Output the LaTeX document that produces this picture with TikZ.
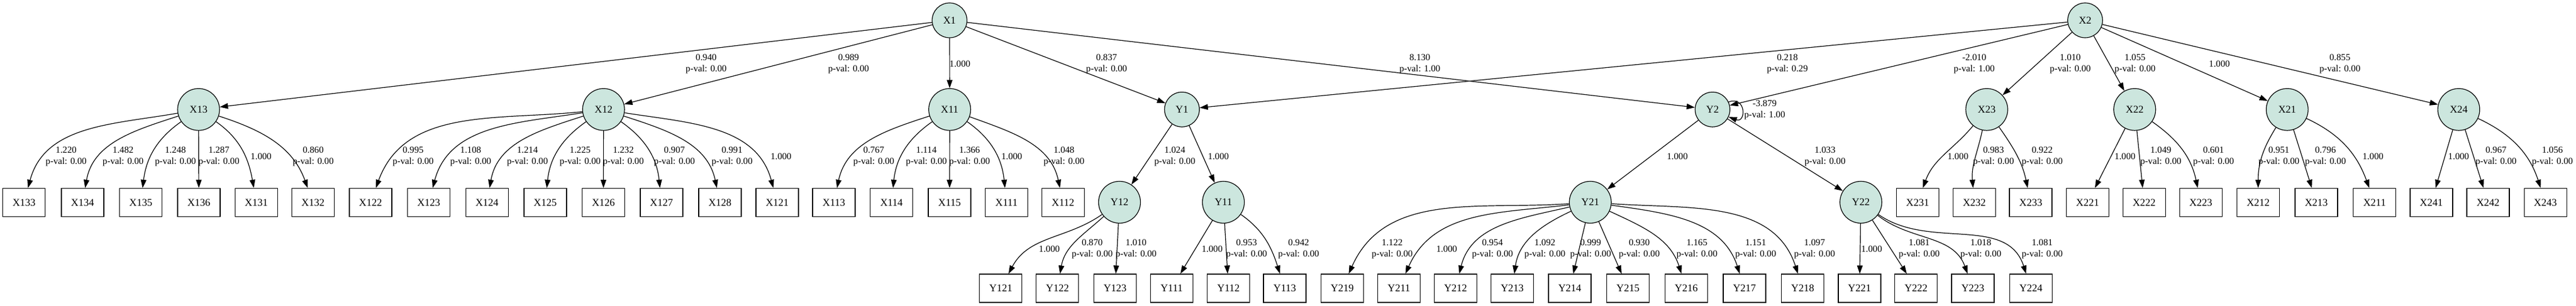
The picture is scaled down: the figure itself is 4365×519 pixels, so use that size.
\documentclass[tikz,border=0pt]{standalone}
\usepackage{fontspec}
\setmainfont{Liberation Serif}
\usetikzlibrary{arrows.meta}
\definecolor{latentfill}{RGB}{204,230,222}

\begin{document}
\begin{tikzpicture}[x=1pt,y=1pt,
  latent/.style={circle,draw,line width=1.2pt,fill=latentfill,minimum size=71pt,inner sep=0pt,font=\fontsize{17.5}{20}\selectfont},
  latent top/.style={latent,minimum size=59pt},
  obs/.style={rectangle,draw,line width=1.3pt,minimum width=72pt,minimum height=48pt,inner sep=0pt,font=\fontsize{17.5}{20}\selectfont},
  lbl/.style={align=center,inner sep=0pt,font=\fontsize{15.7}{19}\selectfont},
  arr/.style={line width=1.2pt,-{Triangle[length=14pt,width=9.5pt]}}]
  \useasboundingbox (0,0) rectangle (4365,519);

  \node[latent top] (X1) at (1609,484.5) {X1};
  \node[latent top] (X2) at (3533.2,484.5) {X2};

  \node[latent] (X13) at (336.5,333.3) {X13};
  \node[latent] (X12) at (1022.7,333.3) {X12};
  \node[latent] (X11) at (1609.2,333.3) {X11};
  \node[latent top] (Y1) at (2002.8,333.3) {Y1};
  \node[latent top] (Y2) at (2901.8,333.3) {Y2};
  \node[latent] (X23) at (3366.5,333.3) {X23};
  \node[latent] (X22) at (3617.2,333.3) {X22};
  \node[latent] (X21) at (3875.6,333.3) {X21};
  \node[latent] (X24) at (4166.3,333.3) {X24};

  \node[latent] (Y12) at (1897,176) {Y12};
  \node[latent] (Y11) at (2073,176) {Y11};
  \node[latent] (Y21) at (2694.7,176) {Y21};
  \node[latent] (Y22) at (3153.2,176) {Y22};

  \node[obs] (X133) at (40.8,175.5) {X133};
  \node[obs] (X134) at (139.9,175.5) {X134};
  \node[obs] (X135) at (238.6,175.5) {X135};
  \node[obs] (X136) at (337,175.5) {X136};
  \node[obs] (X131) at (434.4,175.5) {X131};
  \node[obs] (X132) at (530.4,175.5) {X132};
  \node[obs] (X122) at (627.9,175.5) {X122};
  \node[obs] (X123) at (726.5,175.5) {X123};
  \node[obs] (X124) at (825.2,175.5) {X124};
  \node[obs] (X125) at (923.9,175.5) {X125};
  \node[obs] (X126) at (1022.5,175.5) {X126};
  \node[obs] (X127) at (1120.9,175.5) {X127};
  \node[obs] (X128) at (1220,175.5) {X128};
  \node[obs] (X121) at (1317,175.5) {X121};
  \node[obs] (X113) at (1413,175.5) {X113};
  \node[obs] (X114) at (1510.6,175.5) {X114};
  \node[obs] (X115) at (1609,175.5) {X115};
  \node[obs] (X111) at (1705.5,175.5) {X111};
  \node[obs] (X112) at (1801.3,175.5) {X112};
  \node[obs] (X231) at (3249.3,175.5) {X231};
  \node[obs] (X232) at (3345.5,175.5) {X232};
  \node[obs] (X233) at (3441.1,175.5) {X233};
  \node[obs] (X221) at (3537.3,175.5) {X221};
  \node[obs] (X222) at (3633.2,175.5) {X222};
  \node[obs] (X223) at (3729.2,175.5) {X223};
  \node[obs] (X212) at (3826.4,175.5) {X212};
  \node[obs] (X213) at (3925,175.5) {X213};
  \node[obs] (X211) at (4023.6,175.5) {X211};
  \node[obs] (X241) at (4119.8,175.5) {X241};
  \node[obs] (X242) at (4216,175.5) {X242};
  \node[obs] (X243) at (4313.1,175.5) {X243};

  \node[obs] (Y121) at (1695.8,30) {Y121};
  \node[obs] (Y122) at (1791.8,30) {Y122};
  \node[obs] (Y123) at (1889.5,30) {Y123};
  \node[obs] (Y111) at (1985.3,30) {Y111};
  \node[obs] (Y112) at (2081.6,30) {Y112};
  \node[obs] (Y113) at (2177,30) {Y113};
  \node[obs] (Y219) at (2274.4,30) {Y219};
  \node[obs] (Y211) at (2370.5,30) {Y211};
  \node[obs] (Y212) at (2466.5,30) {Y212};
  \node[obs] (Y213) at (2562.5,30) {Y213};
  \node[obs] (Y214) at (2660,30) {Y214};
  \node[obs] (Y215) at (2758.6,30) {Y215};
  \node[obs] (Y216) at (2857.3,30) {Y216};
  \node[obs] (Y217) at (2956,30) {Y217};
  \node[obs] (Y218) at (3054.6,30) {Y218};
  \node[obs] (Y221) at (3150.9,30) {Y221};
  \node[obs] (Y222) at (3246.7,30) {Y222};
  \node[obs] (Y223) at (3343,30) {Y223};
  \node[obs] (Y224) at (3441.3,30) {Y224};

  \draw[arr] (X1) -- (X13);
  \draw[arr] (X1) -- (X12);
  \draw[arr] (X1) -- (X11);
  \draw[arr] (X1) -- (Y1);
  \draw[arr] (X1) -- (Y2);
  \draw[arr] (X2) -- (Y1);
  \draw[arr] (X2) -- (Y2);
  \draw[arr] (X2) -- (X23);
  \draw[arr] (X2) -- (X22);
  \draw[arr] (X2) -- (X21);
  \draw[arr] (X2) -- (X24);
  \draw[arr] (Y1) -- (Y12);
  \draw[arr] (Y1) -- (Y11);
  \draw[arr] (Y2) -- (Y21);
  \draw[arr] (Y2) -- (Y22);
  \draw[arr] (Y2.25) .. controls +(20:32) and +(-20:32) .. (Y2.-25);

  \draw[arr] (X13) to[out=190,in=75] (X133);
  \draw[arr] (X13) to[out=198,in=80] (X134);
  \draw[arr] (X13) to[out=215,in=83] (X135);
  \draw[arr] (X13) -- (X136);
  \draw[arr] (X13) to[out=-35,in=100] (X131);
  \draw[arr] (X13) to[out=-18,in=110] (X132);

  \draw[arr] (X12) to[out=186,in=70] (X122);
  \draw[arr] (X12) to[out=189,in=75] (X123);
  \draw[arr] (X12) to[out=198,in=80] (X124);
  \draw[arr] (X12) to[out=215,in=84] (X125);
  \draw[arr] (X12) -- (X126);
  \draw[arr] (X12) to[out=-35,in=96] (X127);
  \draw[arr] (X12) to[out=-18,in=102] (X128);
  \draw[arr] (X12) to[out=-9,in=105] (X121);

  \draw[arr] (X11) to[out=198,in=78] (X113);
  \draw[arr] (X11) to[out=215,in=84] (X114);
  \draw[arr] (X11) -- (X115);
  \draw[arr] (X11) to[out=-35,in=96] (X111);
  \draw[arr] (X11) to[out=-20,in=102] (X112);

  \draw[arr] (Y12) to[out=215,in=62] (Y121);
  \draw[arr] (Y12) to[out=222,in=80] (Y122);
  \draw[arr] (Y12) -- (Y123);

  \draw[arr] (Y11) -- (Y111);
  \draw[arr] (Y11) -- (Y112);
  \draw[arr] (Y11) to[out=-35,in=108] (Y113);

  \draw[arr] (Y21) to[out=184,in=66] (Y219);
  \draw[arr] (Y21) to[out=187,in=66] (Y211);
  \draw[arr] (Y21) to[out=193,in=76] (Y212);
  \draw[arr] (Y21) to[out=205,in=82] (Y213);
  \draw[arr] (Y21) -- (Y214);
  \draw[arr] (Y21) -- (Y215);
  \draw[arr] (Y21) to[out=-25,in=108] (Y216);
  \draw[arr] (Y21) to[out=-8,in=108] (Y217);
  \draw[arr] (Y21) to[out=-4,in=108] (Y218);

  \draw[arr] (Y22) -- (Y221);
  \draw[arr] (Y22) -- (Y222);
  \draw[arr] (Y22) to[out=-38,in=110] (Y223);
  \draw[arr] (Y22) to[out=-35,in=108] (Y224);

  \draw[arr] (X23) to[out=230,in=70] (X231);
  \draw[arr] (X23) to[out=258,in=95] (X232);
  \draw[arr] (X23) to[out=-55,in=102] (X233);

  \draw[arr] (X22) -- (X221);
  \draw[arr] (X22) -- (X222);
  \draw[arr] (X22) to[out=-35,in=102] (X223);

  \draw[arr] (X21) to[out=238,in=90] (X212);
  \draw[arr] (X21) -- (X213);
  \draw[arr] (X21) to[out=-25,in=110] (X211);

  \draw[arr] (X24) -- (X241);
  \draw[arr] (X24) -- (X242);
  \draw[arr] (X24) to[out=-25,in=108] (X243);

  \node[lbl] (l-X13) at (1196.6,411) {0.940\\p-val: 0.00};
  \node[lbl] (l-X12) at (1437.9,411) {0.989\\p-val: 0.00};
  \node[lbl] (l-X11) at (1626.6,411) {1.000};
  \node[lbl] (l-X1Y1) at (1875.1,411) {0.837\\p-val: 0.00};
  \node[lbl] (l-X1Y2) at (2405.9,411) {8.130\\p-val: 1.00};
  \node[lbl] (l-X2Y1) at (3028.7,411) {0.218\\p-val: 0.29};
  \node[lbl] (l-X2Y2) at (3345.3,411) {-2.010\\p-val: 1.00};
  \node[lbl] (l-X23) at (3508.1,411) {1.010\\p-val: 0.00};
  \node[lbl] (l-X22) at (3617.8,411) {1.055\\p-val: 0.00};
  \node[lbl] (l-X21) at (3760.8,411) {1.000};
  \node[lbl] (l-X24) at (3964.9,411) {0.855\\p-val: 0.00};
  \node[lbl] (l-Y2Y2) at (2990.2,332.3) {-3.879\\p-val: 1.00};

  \node[lbl] (l-X133) at (112.1,253.5) {1.220\\p-val: 0.00};
  \node[lbl] (l-X134) at (208.6,253.5) {1.482\\p-val: 0.00};
  \node[lbl] (l-X135) at (297.3,253.5) {1.248\\p-val: 0.00};
  \node[lbl] (l-X136) at (371,253.5) {1.287\\p-val: 0.00};
  \node[lbl] (l-X131) at (442.4,253.5) {1.000};
  \node[lbl] (l-X132) at (530.7,253.5) {0.860\\p-val: 0.00};
  \node[lbl] (l-X122) at (700.1,253.5) {0.995\\p-val: 0.00};
  \node[lbl] (l-X123) at (797.6,253.5) {1.108\\p-val: 0.00};
  \node[lbl] (l-X124) at (893.7,253.5) {1.214\\p-val: 0.00};
  \node[lbl] (l-X125) at (983.1,253.5) {1.225\\p-val: 0.00};
  \node[lbl] (l-X126) at (1056.2,253.5) {1.232\\p-val: 0.00};
  \node[lbl] (l-X127) at (1142.8,253.5) {0.907\\p-val: 0.00};
  \node[lbl] (l-X128) at (1240.5,253.5) {0.991\\p-val: 0.00};
  \node[lbl] (l-X121) at (1323.4,253.5) {1.000};
  \node[lbl] (l-X113) at (1480.6,253.5) {0.767\\p-val: 0.00};
  \node[lbl] (l-X114) at (1569.8,253.5) {1.114\\p-val: 0.00};
  \node[lbl] (l-X115) at (1642.9,253.5) {1.366\\p-val: 0.00};
  \node[lbl] (l-X111) at (1714.4,253.5) {1.000};
  \node[lbl] (l-X112) at (1802.9,253.5) {1.048\\p-val: 0.00};
  \node[lbl] (l-Y12) at (1990.7,253.5) {1.024\\p-val: 0.00};
  \node[lbl] (l-Y11) at (2064.6,253.5) {1.000};
  \node[lbl] (l-Y21) at (2842.2,253.5) {1.000};
  \node[lbl] (l-Y22) at (3092.4,253.5) {1.033\\p-val: 0.00};
  \node[lbl] (l-X231) at (3317.7,253.5) {1.000};
  \node[lbl] (l-X232) at (3377.9,253.5) {0.983\\p-val: 0.00};
  \node[lbl] (l-X233) at (3460.5,253.5) {0.922\\p-val: 0.00};
  \node[lbl] (l-X221) at (3600.8,253.5) {1.000};
  \node[lbl] (l-X222) at (3661.5,253.5) {1.049\\p-val: 0.00};
  \node[lbl] (l-X223) at (3750.8,253.5) {0.601\\p-val: 0.00};
  \node[lbl] (l-X212) at (3861.6,253.5) {0.951\\p-val: 0.00};
  \node[lbl] (l-X213) at (3940.4,253.5) {0.796\\p-val: 0.00};
  \node[lbl] (l-X211) at (4021,253.5) {1.000};
  \node[lbl] (l-X241) at (4166.1,253.5) {1.000};
  \node[lbl] (l-X242) at (4229.5,253.5) {0.967\\p-val: 0.00};
  \node[lbl] (l-X243) at (4325,253.5) {1.056\\p-val: 0.00};

  \node[lbl] (l-Y121) at (1778.1,96.2) {1.000};
  \node[lbl] (l-Y122) at (1850.8,96.2) {0.870\\p-val: 0.00};
  \node[lbl] (l-Y123) at (1925.1,96.2) {1.010\\p-val: 0.00};
  \node[lbl] (l-Y111) at (2054,96.2) {1.000};
  \node[lbl] (l-Y112) at (2112.3,96.2) {0.953\\p-val: 0.00};
  \node[lbl] (l-Y113) at (2200.6,96.2) {0.942\\p-val: 0.00};
  \node[lbl] (l-Y219) at (2359.1,96.2) {1.122\\p-val: 0.00};
  \node[lbl] (l-Y211) at (2451.4,96.2) {1.000};
  \node[lbl] (l-Y212) at (2529,96.2) {0.954\\p-val: 0.00};
  \node[lbl] (l-Y213) at (2617.8,96.2) {1.092\\p-val: 0.00};
  \node[lbl] (l-Y214) at (2695.2,96.2) {0.999\\p-val: 0.00};
  \node[lbl] (l-Y215) at (2777.7,96.2) {0.930\\p-val: 0.00};
  \node[lbl] (l-Y216) at (2875.4,96.2) {1.165\\p-val: 0.00};
  \node[lbl] (l-Y217) at (2974.9,96.2) {1.151\\p-val: 0.00};
  \node[lbl] (l-Y218) at (3074.7,96.2) {1.097\\p-val: 0.00};
  \node[lbl] (l-Y221) at (3171.4,96.2) {1.000};
  \node[lbl] (l-Y222) at (3252.1,96.2) {1.081\\p-val: 0.00};
  \node[lbl] (l-Y223) at (3356.4,96.2) {1.018\\p-val: 0.00};
  \node[lbl] (l-Y224) at (3460.5,96.2) {1.081\\p-val: 0.00};
\end{tikzpicture}
\end{document}
